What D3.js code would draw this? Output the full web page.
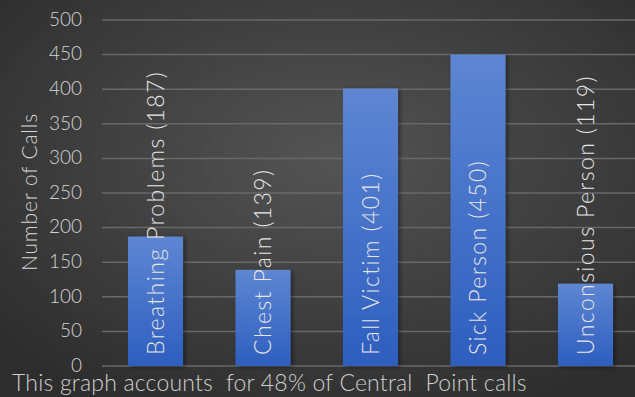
<!DOCTYPE html>
<html>
<head>
<meta charset="utf-8">
<script src="https://cdn.jsdelivr.net/npm/d3@7"></script>
<style>
  body { margin: 0; background: #3a3a3a; }
  svg { display: block; }
  text { font-family: "Lato", "DejaVu Sans", sans-serif; font-weight: 300; }
</style>
</head>
<body>
<svg id="chart"></svg>
<script>
var categories = ["Breathing Problems", "Chest Pain", "Fall Victim", "Sick Person", "Unconsious Person"];
var calls = [187, 139, 401, 450, 119];
var yTicks = [0, 50, 100, 150, 200, 250, 300, 350, 400, 450, 500];
var footnote = "This graph accounts  for 48% of Central  Point calls";

var width = 635, height = 397;

var svg = d3.select("#chart")
  .attr("width", width)
  .attr("height", height);

var defs = svg.append("defs");
var bg = defs.append("radialGradient")
  .attr("id", "bg")
  .attr("cx", "52%").attr("cy", "40%").attr("r", "70%");
bg.append("stop").attr("offset", "0%").attr("stop-color", "#545454");
bg.append("stop").attr("offset", "100%").attr("stop-color", "#2d2d2d");

var barGrad = defs.append("linearGradient")
  .attr("id", "bar")
  .attr("x1", 0).attr("y1", 0).attr("x2", 0).attr("y2", 1);
barGrad.append("stop").attr("offset", "0%").attr("stop-color", "#5e86d2");
barGrad.append("stop").attr("offset", "100%").attr("stop-color", "#2e5ebf");

var shadow = defs.append("filter").attr("id", "shadow")
  .attr("x", "-20%").attr("y", "-10%").attr("width", "150%").attr("height", "120%");
shadow.append("feDropShadow")
  .attr("dx", 2).attr("dy", 1).attr("stdDeviation", 2)
  .attr("flood-color", "#000").attr("flood-opacity", 0.45);

svg.append("rect")
  .attr("width", width).attr("height", height)
  .attr("fill", "url(#bg)");

var x = d3.scaleBand()
  .domain(categories)
  .range([101.75, 639.25])
  .paddingInner(0.488)
  .paddingOuter(0.244);

var y = d3.scaleLinear()
  .domain([0, 500])
  .range([366, 20]);

// gridlines
svg.append("g")
  .selectAll("line")
  .data(yTicks)
  .enter().append("line")
    .attr("x1", 102)
    .attr("x2", width)
    .attr("y1", function(d) { return y(d); })
    .attr("y2", function(d) { return y(d); })
    .attr("stroke", "#686868")
    .attr("stroke-width", 1.5);

// y axis labels
var yAxis = d3.axisLeft(y)
  .tickValues(yTicks)
  .tickSize(0)
  .tickPadding(0);

svg.append("g")
  .attr("transform", "translate(82,0)")
  .call(yAxis)
  .call(function(g) { g.select(".domain").remove(); })
  .selectAll("text")
    .attr("fill", "#d4d4d4")
    .attr("dy", "0.28em")
    .style("font-size", "19px")
    .style("font-family", "Lato, 'DejaVu Sans', sans-serif")
    .style("font-weight", 300);

svg.append("text")
  .attr("transform", "translate(37,192) rotate(-90)")
  .attr("text-anchor", "middle")
  .attr("fill", "#d4d4d4")
  .style("font-size", "21px")
  .style("letter-spacing", "0.8px")
  .text("Number of Calls");

// bars
svg.append("g").selectAll("rect")
    .data(calls)
  .enter().append("rect")
    .attr("x", function(d, i) { return x(categories[i]); })
    .attr("y", function(d) { return y(d); })
    .attr("width", x.bandwidth())
    .attr("height", function(d) { return y(0) - y(d); })
    .attr("fill", "url(#bar)")
    .attr("filter", "url(#shadow)");

// rotated labels
svg.append("g").selectAll("text")
    .data(calls)
  .enter().append("text")
    .attr("transform", function(d, i) {
      return "translate(" + (x(categories[i]) + x.bandwidth() / 2 + 8) + ",355) rotate(-90)";
    })
    .attr("fill", "#e6e6e6")
    .style("font-size", "23px")
    .style("letter-spacing", "1.4px")
    .text(function(d, i) { return categories[i] + " (" + d + ")"; });

svg.append("text")
  .attr("x", 12)
  .attr("y", 391)
  .attr("fill", "#cfcfcf")
  .style("font-size", "23px")
  .style("letter-spacing", "0.2px")
  .attr("xml:space", "preserve")
  .style("white-space", "pre")
  .text(footnote);
</script>
</body>
</html>
